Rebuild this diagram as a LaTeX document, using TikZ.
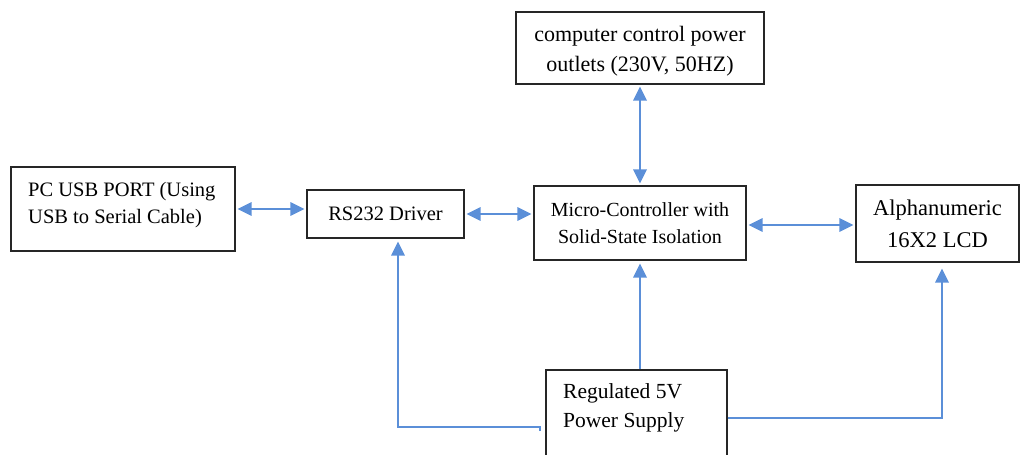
\documentclass[tikz,border=0pt]{standalone}
\usepackage{fontspec}
\setmainfont{Liberation Serif}
\usetikzlibrary{arrows.meta,calc}
\definecolor{linkblue}{HTML}{5B8FD8}
\tikzset{
  blk/.style={draw=black!85, line width=1.3pt, inner sep=0pt, align=center},
  link/.style={draw=linkblue, line width=1.8pt,
    {Triangle[length=14pt,width=13.5pt]}-{Triangle[length=14pt,width=13.5pt]},
    shorten <=2pt, shorten >=2pt},
  feed/.style={draw=linkblue, line width=1.8pt,
    -{Triangle[length=14pt,width=13.5pt]}, shorten >=3pt},
  lbl/.style={inner sep=0pt, align=left, anchor=north west},
}
\begin{document}
\begin{tikzpicture}[x=1pt,y=-1pt]
\useasboundingbox (0,0) rectangle (1021,455);
\clip (0,0) rectangle (1021,455);

% blocks
\node[blk, minimum width=248pt, minimum height=72pt] (outlets) at (640,48) {};
\node[font=\fontsize{22}{30}\selectfont, align=center, inner sep=0pt]
  (outletstext) at (640,51.5) {computer control power\\outlets (230V, 50HZ)};
\node[blk, minimum width=224pt, minimum height=84pt] (pc) at (123,209) {};
\node[lbl, font=\fontsize{20.5}{27}\selectfont] (pctext) at (28,182)
  {PC USB PORT (Using\\USB to Serial Cable)};
\node[blk, minimum width=157pt, minimum height=48pt, font=\fontsize{20.5}{27}\selectfont]
  (rs) at (385.5,214) {RS232 Driver};
\node[blk, minimum width=212pt, minimum height=74pt, font=\fontsize{20}{27}\selectfont]
  (mc) at (640,223) {Micro-Controller with\\Solid-State Isolation};
\node[blk, minimum width=163pt, minimum height=77pt, font=\fontsize{22.5}{32}\selectfont]
  (lcd) at (937.5,223.5) {Alphanumeric\\16X2 LCD};
\node[blk, minimum width=181pt, minimum height=105pt] (psu) at (636.5,422.5) {};
\node[lbl, font=\fontsize{21.5}{29}\selectfont] (psutext) at (563,383.5)
  {Regulated 5V\\Power Supply};

% data links
\draw[link] (pc.east) -- (pc.east -| rs.west);
\draw[link] (rs.east) -- (rs.east -| mc.west);
\draw[link] ([yshift=-2pt]mc.east) -- ([yshift=-2pt]mc.east -| lcd.west);
\draw[link] (outlets.south) -- (mc.north);

% supply lines
\coordinate (tap) at (540,431);
\draw[feed] (mc.south |- psu.north) -- (mc.south);
\draw[feed] (tap) -- ++(0,-4) -| ([xshift=12.5pt]rs.south);
\draw[feed, shorten >=6pt] ([yshift=4.5pt]psu.east) -| ([xshift=4.5pt]lcd.south);
\end{tikzpicture}
\end{document}
